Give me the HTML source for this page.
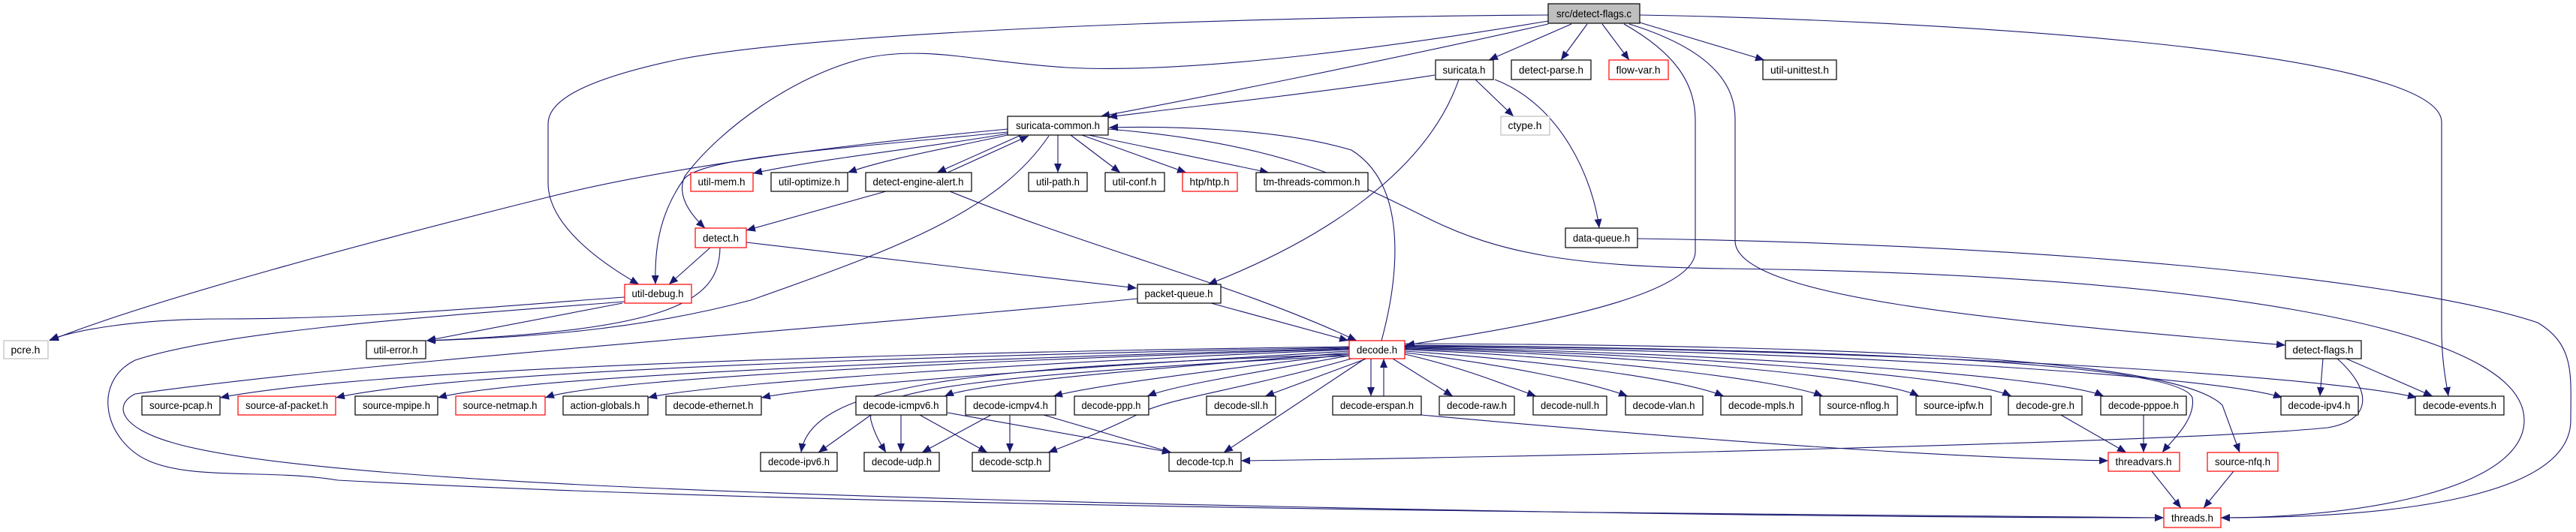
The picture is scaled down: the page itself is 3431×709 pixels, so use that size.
<!DOCTYPE html>
<html><head><meta charset="utf-8"><style>
html,body{margin:0;padding:0;background:#fff;}
svg{display:block;}
text{font-family:"Liberation Sans",sans-serif;font-size:14px;fill:#000;}
</style></head><body>
<svg width="3431" height="709" viewBox="0 0 3431 709" xmlns="http://www.w3.org/2000/svg">
<defs>
<marker id="a" markerUnits="userSpaceOnUse" markerWidth="12" markerHeight="10" refX="12" refY="5" orient="auto">
<path d="M0,0 L12,5 L0,10 z" fill="#191970"/>
</marker>
</defs>
<g fill="none" stroke="#191970" stroke-width="1.1" marker-end="url(#a)">
<!-- from root -->
<path d="M2062,20 C1700,22 1100,40 900,80 C760,110 730,140 730,165 L730,244 C730,300 800,350 851,379"/>
<path d="M2062,28 C1900,55 1600,100 1420,90 C1300,82 1230,60 1150,78 C1060,100 960,170 912,235 C900,262 922,288 939,304"/>
<path d="M2062,32 C1850,80 1600,130 1466,155"/>
<path d="M2093,32 L1983,80"/>
<path d="M2114,32 L2079,80"/>
<path d="M2134,32 L2170,80"/>
<path d="M2163,32 C2230,70 2258,110 2258,160 L2258,335 C2258,400 2000,440 1872,460"/>
<path d="M2170,32 C2260,60 2311,100 2311,158 L2311,321 C2311,400 2700,430 3044,460"/>
<path d="M2184,30 L2350,80"/>
<path d="M2184,20 C2500,25 3252,60 3252,163 L3252,440 C3252,480 3258,510 3261,528"/>
<!-- suricata.h -->
<path d="M1911,100 C1750,125 1600,140 1476,156"/>
<path d="M1965,106 L2016,155"/>
<path d="M1991,106 C2080,140 2122,240 2130,304"/>
<path d="M1943,106 C1900,230 1760,320 1609,379"/>
<!-- suricata-common -->
<path d="M1342,178 C1250,195 1100,210 1003,231"/>
<path d="M1342,180 C1250,200 1180,212 1129,230"/>
<path d="M1342,172 C1150,190 900,220 733,262 C500,320 200,400 66,454"/>
<path d="M1342,176 C1100,200 930,210 910,240 C875,290 872,340 873,379"/>
<path d="M1360,180 L1248,230"/>
<path d="M1262,230 L1370,181"/>
<path d="M1409,180 L1409,230"/>
<path d="M1426,180 L1492,230"/>
<path d="M1441,180 L1580,230"/>
<path d="M1450,180 L1690,230"/>
<path d="M1397,181 C1330,280 1200,330 1000,400 C850,440 700,450 568,454"/>
<path d="M1476,172 C1700,190 1800,240 1900,290 C2000,340 2100,355 2300,358 C2900,365 3362,430 3362,560 C3362,650 3150,690 2958,690"/>
<path d="M1840,454 C1860,380 1880,250 1800,200 C1700,170 1550,168 1477,170"/>
<!-- detect-engine-alert -->
<path d="M1265,255 C1450,330 1650,380 1807,454"/>
<path d="M1180,255 L994,307"/>
<!-- detect.h -->
<path d="M946,330 L891,379"/>
<path d="M959,330 C958,400 900,440 568,454"/>
<path d="M994,323 L1514,384"/>
<!-- util-debug -->
<path d="M832,396 C700,405 500,425 300,425 C180,425 100,440 66,453"/>
<path d="M829,404 L568,454"/>
<path d="M832,402 C600,420 300,440 180,480 C120,510 140,590 200,615 C260,640 360,625 450,640 C1200,680 2400,685 2882,690"/>
<!-- packet-queue -->
<path d="M1613,404 L1796,454"/>
<path d="M1515,398 C1200,430 500,480 180,525 C150,540 160,570 230,590 C400,640 1000,660 1700,675 C2300,688 2700,690 2882,690"/>
<!-- data-queue -->
<path d="M2181,318 C2700,325 3200,370 3380,430 C3430,460 3424,500 3424,560 C3424,660 3200,690 2958,690"/>
<!-- decode fan left -->
<path d="M1797,462 C1200,470 500,490 293,530"/>
<path d="M1797,463 C1200,475 600,495 447,530"/>
<path d="M1797,464 C1300,478 700,500 583,530"/>
<path d="M1797,465 C1300,480 800,505 726,530"/>
<path d="M1797,466 C1400,482 950,510 863,530"/>
<path d="M1797,468 C1500,485 1100,512 1014,530"/>
<path d="M1797,470 C1550,490 1300,510 1258,528"/>
<path d="M1797,472 C1600,495 1450,515 1403,528"/>
<path d="M1797,474 C1650,500 1560,515 1528,528"/>
<path d="M1820,478 L1685,528"/>
<path d="M1826,478 L1826,528"/>
<path d="M1843,528 L1843,478"/>
<path d="M1855,478 L1935,528"/>
<path d="M1871,472 C1950,490 2010,515 2046,528"/>
<path d="M1871,470 C2000,485 2120,510 2168,528"/>
<path d="M1871,468 C2050,480 2240,505 2296,528"/>
<path d="M1871,466 C2100,475 2370,505 2428,528"/>
<path d="M1871,465 C2150,472 2500,500 2556,528"/>
<path d="M1871,464 C2200,470 2620,500 2679,528"/>
<path d="M1871,463 C2250,468 2740,500 2802,528"/>
<path d="M1871,462 C2400,466 2950,500 3040,530"/>
<path d="M1871,461 C2500,464 3100,500 3219,530"/>
<path d="M1871,460 C2400,465 2900,480 2920,530 C2925,560 2890,590 2880,603"/>
<path d="M1871,458 C2500,460 2900,480 2960,540 L2983,603"/>
<path d="M1797,472 C1300,490 1080,510 1067,603"/>
<path d="M1797,474 C1300,500 1150,520 1160,560 C1165,580 1175,595 1180,603"/>
<path d="M1800,478 C1650,520 1560,530 1520,550 C1470,575 1430,590 1396,603"/>
<path d="M1818,478 L1630,603"/>
<!-- icmp -->
<path d="M1160,553 L1090,603"/>
<path d="M1200,553 L1200,603"/>
<path d="M1225,553 L1315,603"/>
<path d="M1262,550 L1560,603"/>
<path d="M1320,553 L1228,603"/>
<path d="M1345,553 L1345,603"/>
<path d="M1390,553 L1560,603"/>
<!-- misc -->
<path d="M1893,553 C2300,590 2600,610 2808,614"/>
<path d="M2745,553 L2832,603"/>
<path d="M2855,553 L2855,603"/>
<path d="M2866,628 L2905,677"/>
<path d="M2975,628 L2935,677"/>
<path d="M3094,478 L3090,528"/>
<path d="M3125,478 L3240,528"/>
<path d="M3113,478 C3160,520 3160,560 3100,570 C2900,590 2000,610 1653,614"/>
</g>
<g stroke-width="1.2">
<rect x="2062" y="5" width="122" height="26" fill="#bfbfbf" stroke="#000"/>
<rect x="1912" y="80" width="77" height="26" fill="#fff" stroke="#000"/>
<rect x="2013" y="80" width="106" height="26" fill="#fff" stroke="#000"/>
<rect x="2143" y="80" width="79" height="26" fill="#fff" stroke="#f00"/>
<rect x="2348" y="80" width="98" height="26" fill="#fff" stroke="#000"/>
<rect x="1342" y="155" width="134" height="25" fill="#fff" stroke="#000"/>
<rect x="1999" y="155" width="65" height="25" fill="#fff" stroke="#bfbfbf"/>
<rect x="920" y="230" width="83" height="25" fill="#fff" stroke="#f00"/>
<rect x="1027" y="230" width="102" height="25" fill="#fff" stroke="#000"/>
<rect x="1153" y="230" width="141" height="25" fill="#fff" stroke="#000"/>
<rect x="1370" y="230" width="78" height="25" fill="#fff" stroke="#000"/>
<rect x="1472" y="230" width="79" height="25" fill="#fff" stroke="#000"/>
<rect x="1575" y="230" width="73" height="25" fill="#fff" stroke="#f00"/>
<rect x="1673" y="230" width="149" height="25" fill="#fff" stroke="#000"/>
<rect x="926" y="304" width="68" height="26" fill="#fff" stroke="#f00"/>
<rect x="2085" y="304" width="96" height="26" fill="#fff" stroke="#000"/>
<rect x="832" y="379" width="89" height="25" fill="#fff" stroke="#f00"/>
<rect x="1515" y="379" width="111" height="25" fill="#fff" stroke="#000"/>
<rect x="5" y="454" width="59" height="24" fill="#fff" stroke="#bfbfbf"/>
<rect x="488" y="454" width="79" height="24" fill="#fff" stroke="#000"/>
<rect x="1797" y="454" width="74" height="24" fill="#fff" stroke="#f00"/>
<rect x="3044" y="454" width="101" height="24" fill="#fff" stroke="#000"/>
<rect x="189" y="528" width="104" height="25" fill="#fff" stroke="#000"/>
<rect x="317" y="528" width="130" height="25" fill="#fff" stroke="#f00"/>
<rect x="473" y="528" width="110" height="25" fill="#fff" stroke="#000"/>
<rect x="607" y="528" width="119" height="25" fill="#fff" stroke="#f00"/>
<rect x="750" y="528" width="113" height="25" fill="#fff" stroke="#000"/>
<rect x="887" y="528" width="127" height="25" fill="#fff" stroke="#000"/>
<rect x="1140" y="528" width="121" height="25" fill="#fff" stroke="#000"/>
<rect x="1286" y="528" width="120" height="25" fill="#fff" stroke="#000"/>
<rect x="1431" y="528" width="99" height="25" fill="#fff" stroke="#000"/>
<rect x="1607" y="528" width="92" height="25" fill="#fff" stroke="#000"/>
<rect x="1775" y="528" width="118" height="25" fill="#fff" stroke="#000"/>
<rect x="1917" y="528" width="100" height="25" fill="#fff" stroke="#000"/>
<rect x="2042" y="528" width="98" height="25" fill="#fff" stroke="#000"/>
<rect x="2165" y="528" width="103" height="25" fill="#fff" stroke="#000"/>
<rect x="2292" y="528" width="108" height="25" fill="#fff" stroke="#000"/>
<rect x="2424" y="528" width="103" height="25" fill="#fff" stroke="#000"/>
<rect x="2552" y="528" width="100" height="25" fill="#fff" stroke="#000"/>
<rect x="2675" y="528" width="98" height="25" fill="#fff" stroke="#000"/>
<rect x="2798" y="528" width="114" height="25" fill="#fff" stroke="#000"/>
<rect x="3038" y="528" width="103" height="25" fill="#fff" stroke="#000"/>
<rect x="3217" y="528" width="118" height="25" fill="#fff" stroke="#000"/>
<rect x="1013" y="603" width="102" height="25" fill="#fff" stroke="#000"/>
<rect x="1151" y="603" width="100" height="25" fill="#fff" stroke="#000"/>
<rect x="1295" y="603" width="103" height="25" fill="#fff" stroke="#000"/>
<rect x="1557" y="603" width="96" height="25" fill="#fff" stroke="#000"/>
<rect x="2808" y="603" width="95" height="25" fill="#fff" stroke="#f00"/>
<rect x="2940" y="603" width="94" height="25" fill="#fff" stroke="#f00"/>
<rect x="2882" y="677" width="76" height="26" fill="#fff" stroke="#f00"/>
</g>
<g text-anchor="middle" lengthAdjust="spacingAndGlyphs">
<text x="2123" y="23" textLength="100" lengthAdjust="spacingAndGlyphs">src/detect-flags.c</text>
<text x="1950" y="98" textLength="57" lengthAdjust="spacingAndGlyphs">suricata.h</text>
<text x="2066" y="98" textLength="86" lengthAdjust="spacingAndGlyphs">detect-parse.h</text>
<text x="2182" y="98" textLength="59" lengthAdjust="spacingAndGlyphs">flow-var.h</text>
<text x="2397" y="98" textLength="78" lengthAdjust="spacingAndGlyphs">util-unittest.h</text>
<text x="1409" y="172" textLength="112" lengthAdjust="spacingAndGlyphs">suricata-common.h</text>
<text x="2031" y="172" textLength="45" lengthAdjust="spacingAndGlyphs">ctype.h</text>
<text x="961" y="247" textLength="63" lengthAdjust="spacingAndGlyphs">util-mem.h</text>
<text x="1078" y="247" textLength="82" lengthAdjust="spacingAndGlyphs">util-optimize.h</text>
<text x="1223" y="247" textLength="121" lengthAdjust="spacingAndGlyphs">detect-engine-alert.h</text>
<text x="1409" y="247" textLength="58" lengthAdjust="spacingAndGlyphs">util-path.h</text>
<text x="1511" y="247" textLength="59" lengthAdjust="spacingAndGlyphs">util-conf.h</text>
<text x="1611" y="247" textLength="53" lengthAdjust="spacingAndGlyphs">htp/htp.h</text>
<text x="1747" y="247" textLength="129" lengthAdjust="spacingAndGlyphs">tm-threads-common.h</text>
<text x="960" y="322" textLength="48" lengthAdjust="spacingAndGlyphs">detect.h</text>
<text x="2133" y="322" textLength="76" lengthAdjust="spacingAndGlyphs">data-queue.h</text>
<text x="876" y="396" textLength="69" lengthAdjust="spacingAndGlyphs">util-debug.h</text>
<text x="1570" y="396" textLength="91" lengthAdjust="spacingAndGlyphs">packet-queue.h</text>
<text x="34" y="471" textLength="39" lengthAdjust="spacingAndGlyphs">pcre.h</text>
<text x="527" y="471" textLength="59" lengthAdjust="spacingAndGlyphs">util-error.h</text>
<text x="1834" y="471" textLength="54" lengthAdjust="spacingAndGlyphs">decode.h</text>
<text x="3094" y="471" textLength="81" lengthAdjust="spacingAndGlyphs">detect-flags.h</text>
<text x="241" y="545" textLength="84" lengthAdjust="spacingAndGlyphs">source-pcap.h</text>
<text x="382" y="545" textLength="110" lengthAdjust="spacingAndGlyphs">source-af-packet.h</text>
<text x="528" y="545" textLength="90" lengthAdjust="spacingAndGlyphs">source-mpipe.h</text>
<text x="666" y="545" textLength="99" lengthAdjust="spacingAndGlyphs">source-netmap.h</text>
<text x="806" y="545" textLength="93" lengthAdjust="spacingAndGlyphs">action-globals.h</text>
<text x="950" y="545" textLength="107" lengthAdjust="spacingAndGlyphs">decode-ethernet.h</text>
<text x="1200" y="545" textLength="101" lengthAdjust="spacingAndGlyphs">decode-icmpv6.h</text>
<text x="1346" y="545" textLength="100" lengthAdjust="spacingAndGlyphs">decode-icmpv4.h</text>
<text x="1480" y="545" textLength="79" lengthAdjust="spacingAndGlyphs">decode-ppp.h</text>
<text x="1653" y="545" textLength="72" lengthAdjust="spacingAndGlyphs">decode-sll.h</text>
<text x="1834" y="545" textLength="98" lengthAdjust="spacingAndGlyphs">decode-erspan.h</text>
<text x="1967" y="545" textLength="80" lengthAdjust="spacingAndGlyphs">decode-raw.h</text>
<text x="2091" y="545" textLength="78" lengthAdjust="spacingAndGlyphs">decode-null.h</text>
<text x="2216" y="545" textLength="83" lengthAdjust="spacingAndGlyphs">decode-vlan.h</text>
<text x="2346" y="545" textLength="88" lengthAdjust="spacingAndGlyphs">decode-mpls.h</text>
<text x="2475" y="545" textLength="83" lengthAdjust="spacingAndGlyphs">source-nflog.h</text>
<text x="2602" y="545" textLength="80" lengthAdjust="spacingAndGlyphs">source-ipfw.h</text>
<text x="2724" y="545" textLength="78" lengthAdjust="spacingAndGlyphs">decode-gre.h</text>
<text x="2855" y="545" textLength="94" lengthAdjust="spacingAndGlyphs">decode-pppoe.h</text>
<text x="3089" y="545" textLength="83" lengthAdjust="spacingAndGlyphs">decode-ipv4.h</text>
<text x="3276" y="545" textLength="98" lengthAdjust="spacingAndGlyphs">decode-events.h</text>
<text x="1064" y="620" textLength="82" lengthAdjust="spacingAndGlyphs">decode-ipv6.h</text>
<text x="1201" y="620" textLength="80" lengthAdjust="spacingAndGlyphs">decode-udp.h</text>
<text x="1346" y="620" textLength="83" lengthAdjust="spacingAndGlyphs">decode-sctp.h</text>
<text x="1605" y="620" textLength="76" lengthAdjust="spacingAndGlyphs">decode-tcp.h</text>
<text x="2855" y="620" textLength="75" lengthAdjust="spacingAndGlyphs">threadvars.h</text>
<text x="2987" y="620" textLength="74" lengthAdjust="spacingAndGlyphs">source-nfq.h</text>
<text x="2920" y="695" textLength="56" lengthAdjust="spacingAndGlyphs">threads.h</text>
</g>
</svg>
</body></html>
